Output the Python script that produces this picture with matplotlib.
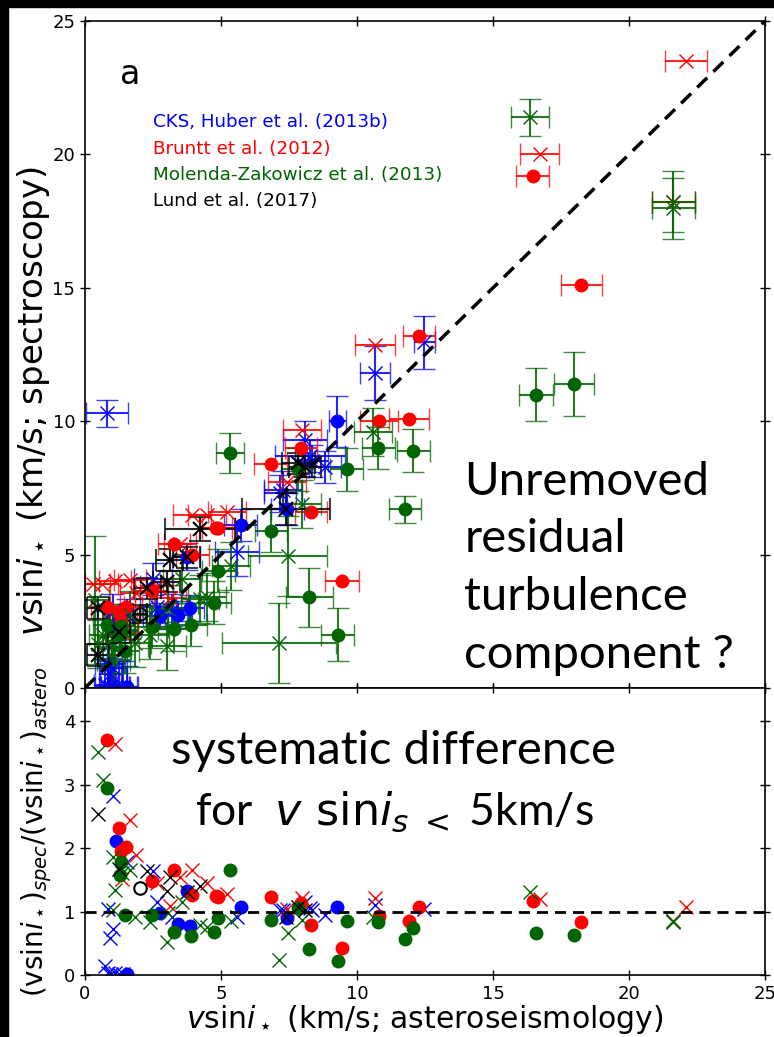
import matplotlib
matplotlib.use("Agg")
import matplotlib.pyplot as plt
import numpy as np
from matplotlib.patches import Rectangle

# ---------------- data (vsini astero x, vsini spec y, errors) ----------------
# CKS, Huber et al. (2013b) - filled circles
cks_o_x = [1.14, 1.56, 2.76, 3.43, 3.86, 3.74, 5.72, 7.44, 9.28]
cks_o_y = [2.40, 0.03, 2.70, 2.75, 3.00, 4.92, 6.10, 6.70, 10.0]
cks_o_xe = [0.4, 0.4, 0.5, 0.5, 0.5, 0.5, 0.6, 0.6, 0.3]
cks_o_ye = [0.6, 0.8, 0.5, 0.5, 0.5, 0.5, 0.6, 0.6, 0.95]
# CKS - crosses
cks_x_x = [0.74, 0.85, 0.95, 1.10, 1.25, 1.40, 0.86, 0.92, 1.04, 1.04, 1.53, 2.51,
           2.64, 3.19, 5.58, 7.17, 7.29, 8.09, 8.27, 8.33, 8.82, 10.66, 12.48, 0.81]
cks_x_y = [0.10, 0.03, 0.02, 0.03, 0.02, 0.03, 0.90, 0.53, 0.76, 2.94, 2.72, 4.10,
           3.04, 2.93, 5.10, 7.30, 7.44, 9.30, 8.70, 8.50, 8.30, 11.8, 12.95, 10.3]
cks_x_xe = [0.4, 0.5, 0.4, 0.5, 0.4, 0.5, 0.5, 0.4, 0.5, 0.6, 0.6, 0.7,
            0.6, 0.6, 0.8, 0.6, 0.7, 0.8, 1.3, 0.6, 0.6, 0.55, 0.4, 0.78]
cks_x_ye = [1.0, 1.0, 1.1, 0.9, 1.0, 1.0, 0.8, 0.7, 0.8, 0.6, 0.6, 0.6,
            0.6, 0.6, 0.9, 0.7, 0.7, 0.7, 0.6, 0.6, 0.6, 1.0, 1.0, 0.5]

# Bruntt et al. (2012) - filled circles
br_o_x = [0.82, 1.25, 1.31, 1.51, 2.45, 3.27, 3.95, 4.82, 4.90, 6.83, 7.94, 8.31,
          9.46, 10.8, 11.92, 12.28, 16.46, 18.25]
br_o_y = [3.03, 2.90, 2.55, 3.05, 3.62, 5.40, 5.00, 6.00, 6.00, 8.40, 9.00, 6.60,
          4.00, 10.0, 10.1, 13.2, 19.2, 15.1]
br_o_xe = [0.6, 0.6, 0.6, 0.6, 0.6, 0.6, 0.6, 0.6, 0.6, 0.6, 0.6, 0.6,
           0.63, 0.7, 0.74, 0.6, 0.6, 0.74]
# Bruntt - crosses
br_x_x = [0.31, 0.61, 1.10, 1.35, 1.65, 1.88, 2.64, 3.12, 3.49, 3.92, 4.47, 5.21,
          7.41, 7.97, 10.66, 16.71, 21.63, 22.10]
br_x_y = [3.88, 3.88, 4.00, 2.05, 4.03, 3.55, 3.83, 3.37, 5.40, 6.48, 6.48, 6.61,
          7.73, 9.67, 12.86, 20.0, 18.23, 23.5]
br_x_xe = [0.6, 0.6, 0.6, 0.6, 0.6, 0.6, 0.6, 0.6, 0.6, 0.7, 0.7, 0.7,
           0.7, 0.7, 0.72, 0.72, 0.78, 0.77]

# Molenda-Zakowicz et al. (2013) - filled circles
mz_o_x = [0.80, 1.31, 1.29, 1.47, 2.45, 3.28, 3.90, 4.75, 4.90, 5.33, 6.84, 7.82,
          8.25, 9.29, 9.62, 10.78, 11.76, 12.07, 16.58, 17.99]
mz_o_y = [2.35, 2.33, 2.03, 1.38, 2.30, 2.20, 2.38, 3.20, 4.40, 8.80, 5.90, 8.20,
          3.40, 2.00, 8.20, 9.00, 6.70, 8.90, 11.0, 11.4]
mz_o_xe = [0.5, 0.5, 0.5, 0.5, 0.6, 0.6, 0.6, 0.6, 0.6, 0.5, 0.6, 0.6,
           0.87, 0.6, 0.6, 0.6, 0.6, 0.6, 0.62, 0.73]
mz_o_ye = [0.8, 0.8, 0.8, 0.8, 0.8, 0.8, 0.8, 0.8, 0.8, 0.75, 0.8, 0.8,
           1.1, 1.0, 0.8, 0.8, 0.5, 0.8, 1.0, 1.2]
# Molenda-Zakowicz - crosses
mz_x_x = [0.37, 0.47, 0.65, 1.04, 1.10, 1.04, 1.35, 1.65, 1.84, 2.39, 3.00, 3.06,
          3.55, 4.23, 4.47, 5.37, 7.13, 7.45, 7.97, 10.6, 16.36, 21.63, 21.63]
mz_x_y = [3.30, 1.65, 2.00, 1.93, 1.47, 1.06, 2.16, 2.72, 1.69, 2.00, 1.56, 2.97,
          4.08, 3.34, 3.40, 4.59, 1.67, 4.95, 6.90, 9.60, 21.39, 18.23, 17.98]
mz_x_xe = [0.5, 0.5, 0.5, 0.6, 0.6, 0.6, 0.6, 0.6, 0.6, 0.7, 0.7, 0.7,
           0.7, 0.7, 0.7, 0.7, 2.1, 1.45, 0.7, 0.7, 0.7, 0.78, 0.78]
mz_x_ye = [2.4, 0.9, 0.9, 0.9, 0.9, 0.9, 0.9, 0.9, 0.9, 0.9, 0.9, 0.9,
           0.9, 0.9, 0.9, 0.9, 1.5, 1.5, 0.9, 0.9, 0.69, 1.15, 1.15]

# Lund et al. (2017) - crosses
lu_x_x = [0.49, 0.49, 1.26, 2.29, 3.00, 3.12, 3.74, 4.23, 7.39, 7.84, 8.09]
lu_x_y = [1.24, 3.00, 2.10, 3.74, 3.98, 4.80, 4.90, 5.95, 6.70, 8.42, 8.30]
lu_x_xe = [0.4, 0.4, 0.4, 0.5, 0.5, 0.5, 0.5, 1.3, 1.6, 0.6, 0.6]
lu_x_ye = [0.4, 0.4, 0.4, 0.4, 0.4, 0.4, 0.4, 0.45, 0.6, 0.4, 0.4]
# Lund - open circle
lu_o_x = [2.02]
lu_o_y = [2.77]
lu_o_xe = [0.25]
lu_o_ye = [0.35]

ratio_ylim = [0, 4.52]
ticks = [0, 5, 10, 15, 20, 25]

C_BLUE = "#0000ff"
C_RED = "#ff0000"
C_GREEN = "#006400"
C_BLACK = "#000000"

fig = plt.figure(figsize=(7.74, 10.37), dpi=100)
fig.patch.set_facecolor("white")
# black frame strips (top and left) as in the reference screenshot
fig.patches.append(Rectangle((0, 1 - 7 / 1037), 1, 7 / 1037, transform=fig.transFigure,
                             color="black", zorder=-10))
fig.patches.append(Rectangle((0, 0), 8 / 774, 1, transform=fig.transFigure,
                             color="black", zorder=-10))

L = 85 / 774
W = (765 - 85) / 774
ax = fig.add_axes([L, 1 - 688 / 1037, W, (688 - 21) / 1037])
axb = fig.add_axes([L, 1 - 975 / 1037, W, (975 - 688) / 1037])

ekw = dict(capsize=8, elinewidth=1.5, capthick=1.5)


def eb(axx, x, y, xe, ye, fmt, color, ms, mew=1.0, mfc=None):
    res = axx.errorbar(x, y, xerr=xe, yerr=ye, fmt=fmt, color=color, ecolor=color,
                       ms=ms, mew=mew, mfc=mfc if mfc is not None else color, **ekw)
    for c in res[1]:
        c.set_alpha(0.75)
    for c in res[2]:
        c.set_alpha(0.85)
    return res


# top panel
eb(ax, cks_x_x, cks_x_y, cks_x_xe, cks_x_ye, "x", C_BLUE, 10)
eb(ax, cks_o_x, cks_o_y, cks_o_xe, cks_o_ye, "o", C_BLUE, 9)
eb(ax, br_x_x, br_x_y, br_x_xe, None, "x", C_RED, 10)
eb(ax, br_o_x, br_o_y, br_o_xe, None, "o", C_RED, 9)
eb(ax, mz_x_x, mz_x_y, mz_x_xe, mz_x_ye, "x", C_GREEN, 10)
eb(ax, mz_o_x, mz_o_y, mz_o_xe, mz_o_ye, "o", C_GREEN, 9)
eb(ax, lu_x_x, lu_x_y, lu_x_xe, lu_x_ye, "x", C_BLACK, 10, mew=1.5)
eb(ax, lu_o_x, lu_o_y, lu_o_xe, lu_o_ye, "o", C_BLACK, 9, mew=1.5, mfc="none")

ax.plot([0, 25], [0, 25], ls="--", color="black", lw=2.5, dashes=(4, 2.5), zorder=5)
ax.set_xlim(0, 25)
ax.set_ylim(0, 25)
ax.set_xticks(ticks)
ax.set_yticks(ticks)
ax.set_xticklabels([])
ax.set_ylabel(r"$v\mathrm{sin}i_\star$ (km/s; spectroscopy)", fontsize=24.5)
ax.yaxis.set_label_coords(-0.048, 0.43)

ax.text(1.65, 23.0, "a", fontsize=24, va="center", ha="center")
legend_txt = ["CKS, Huber et al. (2013b)", "Bruntt et al. (2012)",
              "Molenda-Zakowicz et al. (2013)", "Lund et al. (2017)"]
legend_col = [C_BLUE, C_RED, C_GREEN, C_BLACK]
for i, (t, c) in enumerate(zip(legend_txt, legend_col)):
    ax.text(0.0994, 0.848 - i * 0.0392, t, color=c, fontsize=13.2, va="center",
            ha="left", transform=ax.transAxes)

big_lines = ["Unremoved", "residual", "turbulence", "component ?"]
big_base = [0.289, 0.204, 0.117, 0.030]
for t, yb in zip(big_lines, big_base):
    ax.text(0.558, yb, t, fontsize=34, family="Lato", ha="left", va="baseline",
            transform=ax.transAxes)

# bottom panel (ratio)
def ratio(x, y):
    return np.asarray(y) / np.asarray(x)

axb.plot(cks_x_x, ratio(cks_x_x, cks_x_y), "x", color=C_BLUE, ms=10, mew=1.0)
axb.plot(cks_o_x, ratio(cks_o_x, cks_o_y), "o", color=C_BLUE, ms=9)
axb.plot(br_x_x, ratio(br_x_x, br_x_y), "x", color=C_RED, ms=10, mew=1.0)
axb.plot(br_o_x, ratio(br_o_x, br_o_y), "o", color=C_RED, ms=9)
axb.plot(mz_x_x, ratio(mz_x_x, mz_x_y), "x", color=C_GREEN, ms=10, mew=1.0)
axb.plot(mz_o_x, ratio(mz_o_x, mz_o_y), "o", color=C_GREEN, ms=9)
axb.plot(lu_x_x, ratio(lu_x_x, lu_x_y), "x", color=C_BLACK, ms=10, mew=1.0)
axb.plot(lu_o_x, ratio(lu_o_x, lu_o_y), "o", color=C_BLACK, ms=9, mew=1.5, mfc="none")
axb.axhline(1, ls="--", color="black", lw=2, dashes=(4, 2.5))
axb.set_xlim(0, 25)
axb.set_ylim(*ratio_ylim)
axb.set_xticks(ticks)
axb.set_yticks([0, 1, 2, 3, 4])
axb.set_xlabel(r"$v\mathrm{sin}i_\star$ (km/s; asteroseismology)", fontsize=21.5, labelpad=0)
axb.set_ylabel(r"$(\mathrm{vsin}i_\star)_{spec}/(\mathrm{vsin}i_\star)_{astero}$", fontsize=20)
axb.yaxis.set_label_coords(-0.045, 0.50)

axb.text(0.453, 0.78, "systematic difference", fontsize=34, family="Lato",
         ha="center", va="center", transform=axb.transAxes)
axb.text(0.455, 0.57, r"for  $v\ \mathrm{sin}i_{s\ <}$ 5km/s", fontsize=32, family="Lato",
         ha="center", va="center", transform=axb.transAxes)

for a in (ax, axb):
    a.tick_params(direction="inout", length=7, width=1, top=True, right=True,
                  labelsize=13)
    for s in a.spines.values():
        s.set_linewidth(1.2)

fig.savefig("out.png", dpi=100)
